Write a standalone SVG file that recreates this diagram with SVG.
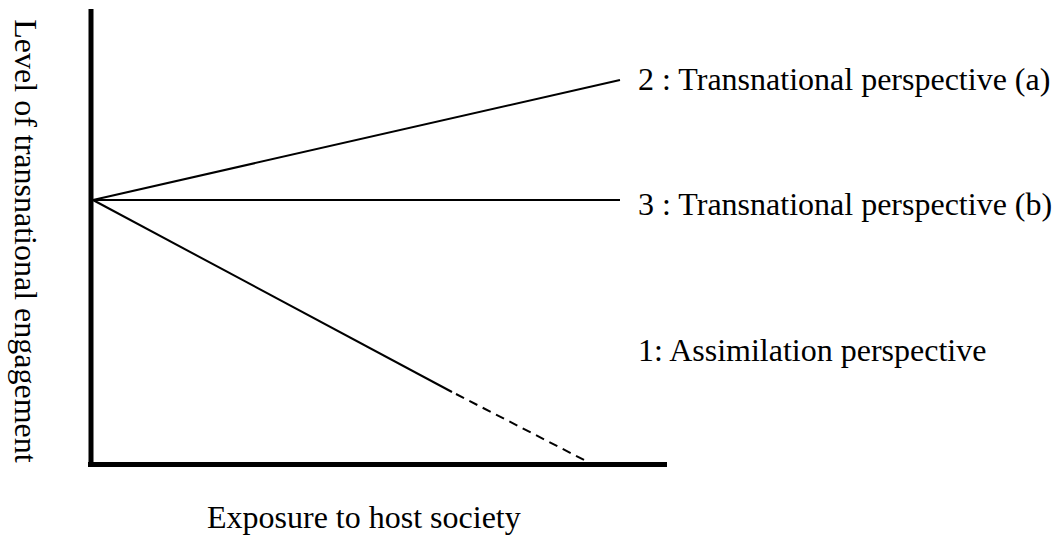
<svg xmlns="http://www.w3.org/2000/svg" width="1060" height="538" viewBox="0 0 1060 538">
<style>
text{font-family:"Liberation Serif","Times New Roman",serif;font-size:32px;fill:#000}
.axis{stroke:#000;stroke-width:5;fill:none}
.ln{stroke:#000;stroke-width:2;fill:none}
.dash{stroke:#000;stroke-width:2;fill:none;stroke-dasharray:9,6}
</style>
<rect width="1060" height="538" fill="#fff"/>
<g id="axes">
<line class="axis" x1="91" y1="9" x2="91" y2="467"/>
<line class="axis" x1="88" y1="464.5" x2="667" y2="464.5"/>
</g>
<g id="connectors">
<line class="ln" x1="93" y1="200" x2="620" y2="80"/>
<line class="ln" x1="93" y1="200" x2="620" y2="200"/>
<line class="ln" x1="93" y1="200" x2="452" y2="392"/>
<line class="dash" x1="456" y1="394" x2="588" y2="462"/>
</g>
<g id="label-2"><text x="638" y="90">2 : Transnational perspective (a)</text></g>
<g id="label-3"><text x="638" y="215">3 : Transnational perspective (b)</text></g>
<g id="label-1"><text x="638" y="361">1: Assimilation perspective</text></g>
<g id="x-label"><text x="207" y="528">Exposure to host society</text></g>
<g id="y-label"><text transform="translate(15,241) rotate(90)" text-anchor="middle">Level of transnational engagement</text></g>
</svg>
